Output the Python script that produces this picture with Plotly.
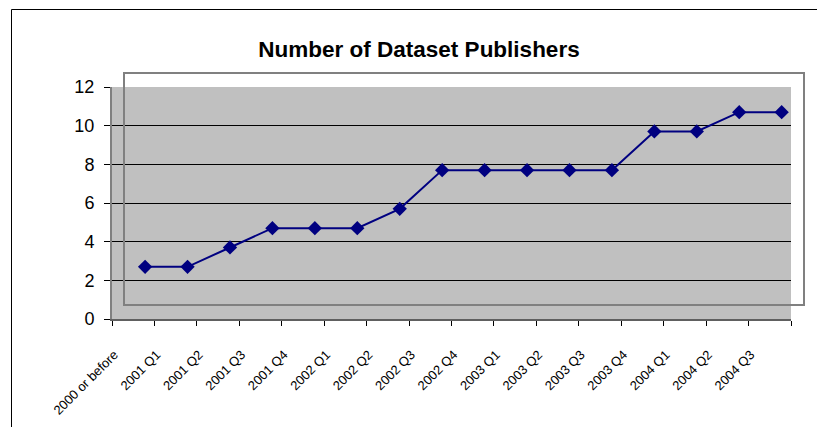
import plotly.graph_objects as go

categories = ["2000 or before", "2001 Q1", "2001 Q2", "2001 Q3", "2001 Q4",
              "2002 Q1", "2002 Q2", "2002 Q3", "2002 Q4",
              "2003 Q1", "2003 Q2", "2003 Q3", "2003 Q4",
              "2004 Q1", "2004 Q2", "2004 Q3"]
publishers = [2.7, 2.7, 3.7, 4.7, 4.7, 4.7, 5.7, 7.7, 7.7, 7.7, 7.7, 7.7, 9.7, 9.7, 10.7, 10.7]
y_ticks = [0, 2, 4, 6, 8, 10, 12]
title_text = "Number of Dataset Publishers"

W, H = 817, 427
# plot area in window pixels: (112,87) - (791,319)
L, T = 112, 87
R, B = W - 791, H - 319
pw, ph = W - L - R, H - T - B

def px_x(x):
    return (x - L) / pw

def px_y(y):
    return (H - B - y) / ph

fig = go.Figure()
fig.add_trace(go.Scatter(
    x=categories, y=publishers, mode="lines+markers",
    xaxis="x2",
    line=dict(color="#000080", width=2),
    marker=dict(symbol="diamond", size=11, color="#000080"),
    showlegend=False, hoverinfo="x+y",
))
fig.add_trace(go.Scatter(x=categories, y=[None] * len(categories), showlegend=False,
                         hoverinfo="skip", mode="markers"))

n = len(categories)
fig.update_layout(
    width=W, height=H,
    margin=dict(l=L, r=R, t=T, b=B, pad=0, autoexpand=False),
    paper_bgcolor="white",
    plot_bgcolor="#C0C0C0",
    font=dict(family="Liberation Sans, Arial", color="black"),
    title=dict(text="<b>" + title_text + "</b>", font=dict(size=22.5, color="black"),
               x=419 / W, xanchor="center", xref="container",
               y=1 - 49 / H, yanchor="middle", yref="container"),
    xaxis=dict(
        type="category", categoryorder="array", categoryarray=categories,
        range=[-0.5, n - 0.5], automargin=False,
        tickson="boundaries", ticks="outside", ticklen=5, tickcolor="black",
        showline=True, linecolor="#606060", linewidth=2,
        showgrid=False, zeroline=False,
        tickangle=-45, tickfont=dict(size=13, color="black"),
        ticklabelshift=-19, ticklabelstandoff=21,
    ),
    xaxis2=dict(
        type="category", categoryorder="array", categoryarray=categories,
        overlaying="x", range=[-0.5 - 0.28, n - 0.5 - 0.28],
        visible=False, showgrid=False,
    ),
    yaxis=dict(
        range=[0, 12], tickvals=y_ticks, ticks="outside", ticklen=6, tickcolor="black",
        showline=True, linecolor="#808080", linewidth=2, automargin=False,
        showgrid=True, gridcolor="black", gridwidth=1, zeroline=False,
        tickfont=dict(size=18, color="black"), ticklabelstandoff=6,
    ),
    shapes=[
        dict(type="rect", xref="paper", yref="paper",
             x0=px_x(124), x1=px_x(804), y0=px_y(305), y1=px_y(73),
             line=dict(color="#808080", width=2), fillcolor="rgba(0,0,0,0)", layer="above"),
        dict(type="line", xref="paper", yref="paper",
             x0=px_x(11.5), x1=px_x(830), y0=px_y(9.5), y1=px_y(9.5),
             line=dict(color="black", width=1), layer="above"),
        dict(type="line", xref="paper", yref="paper",
             x0=px_x(11.5), x1=px_x(11.5), y0=px_y(9.5), y1=px_y(440),
             line=dict(color="black", width=1), layer="above"),
    ],
)

fig.write_html(
    "out.html",
    config={"displayModeBar": False},
    post_script="document.body.style.margin='0';document.body.style.overflow='hidden';",
)
